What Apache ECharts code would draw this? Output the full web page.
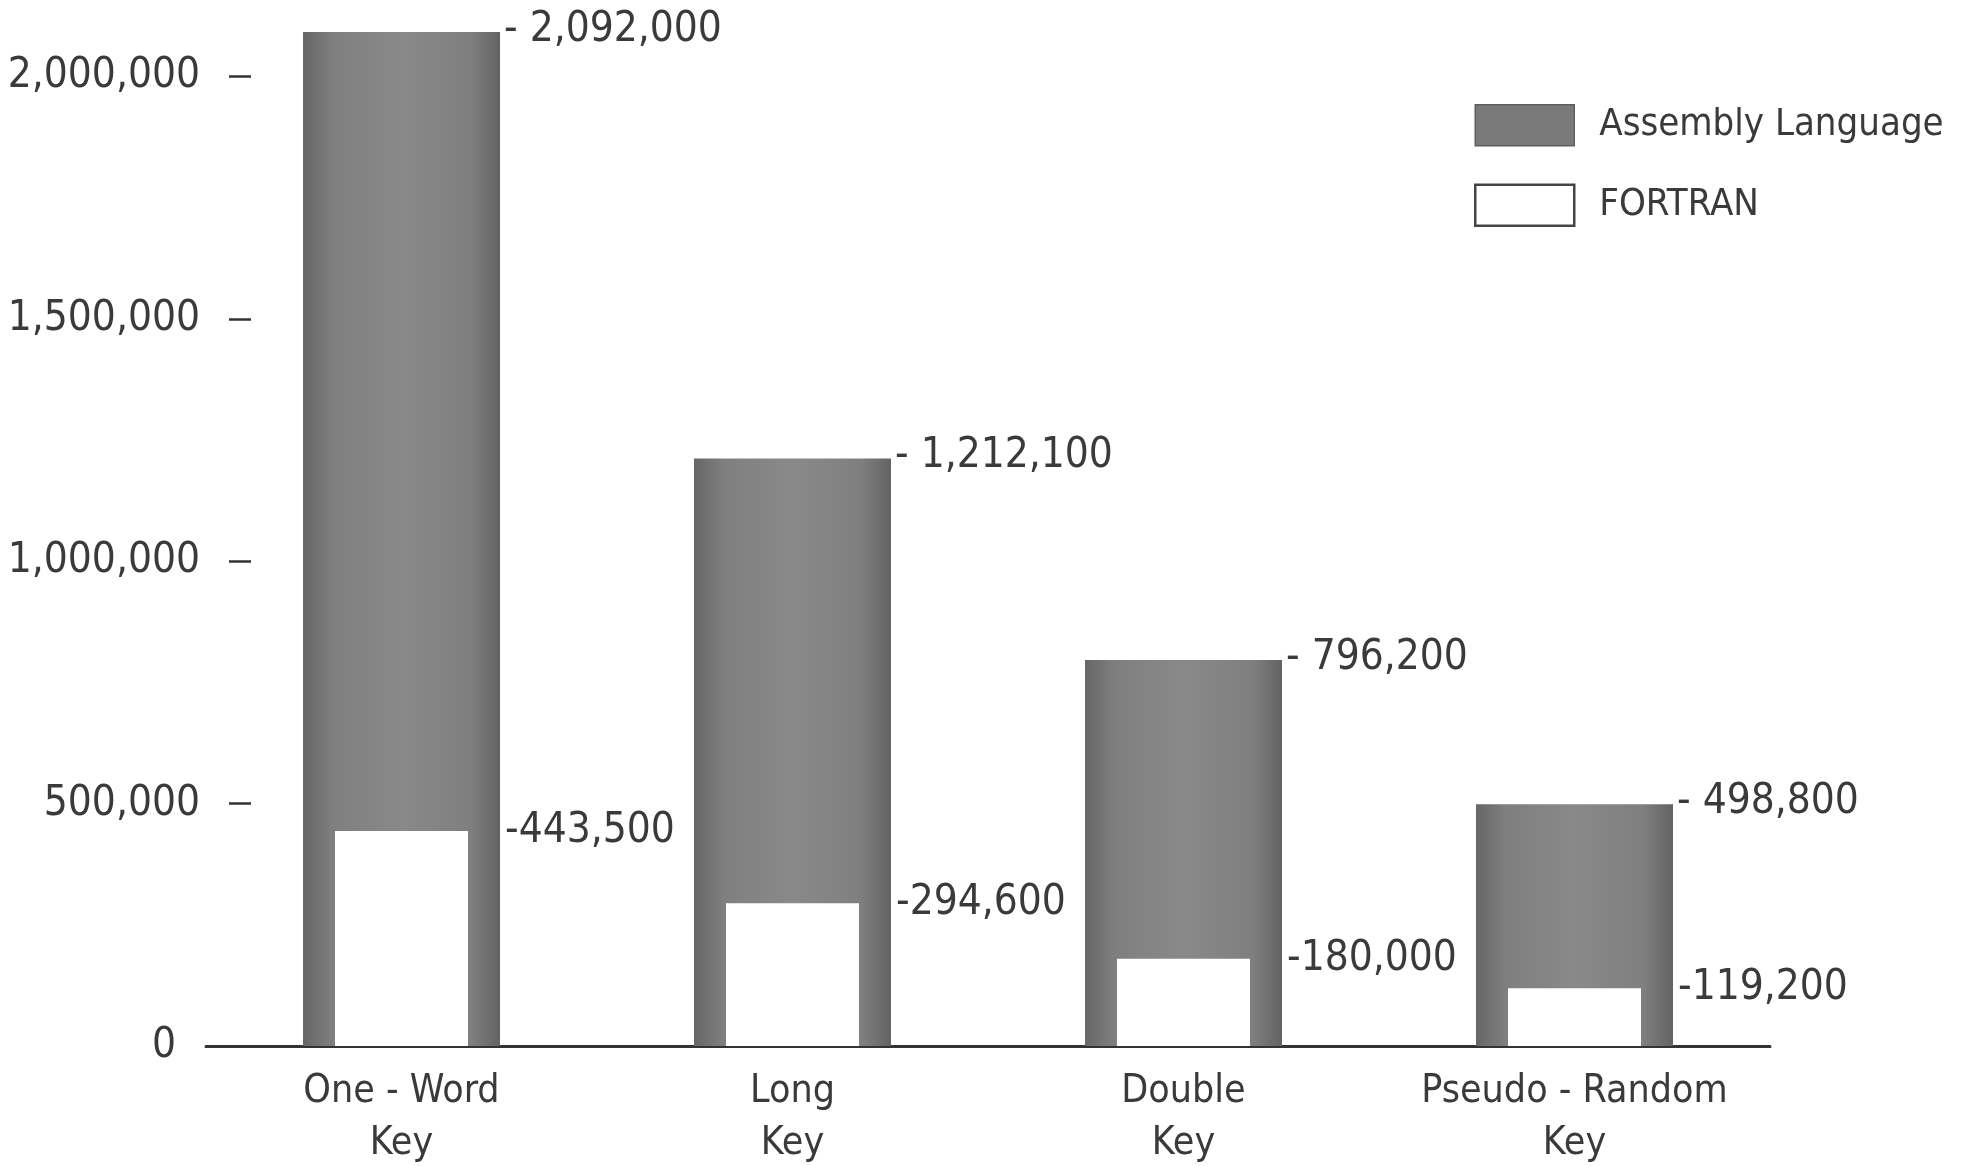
<!DOCTYPE html>
<html>
<head>
<meta charset="utf-8">
<title>Assembly Language vs FORTRAN</title>
<script src="https://cdn.jsdelivr.net/npm/echarts@6/dist/echarts.min.js"></script>
<style>
  html, body { margin: 0; padding: 0; background: #fff; }
  #main { width: 1965px; height: 1166px; }
</style>
</head>
<body>
<div id="main"></div>
<script>
var categories = ['One - Word\nKey', 'Long\nKey', 'Double\nKey', 'Pseudo - Random\nKey'];
var assemblyValues = [2092000, 1212100, 796200, 498800];
var fortranValues = [443500, 294600, 180000, 119200];
var tickLabels = [0, 500000, 1000000, 1500000, 2000000];

;(function (root) {
var FONT = "'Liberation Sans Narrow', 'DejaVu Sans Condensed', 'Liberation Sans', sans-serif";
var INK = '#3a3a3a';

function fmt(v) {
  return Number(v).toLocaleString('en-US');
}

root.KeyChart = function () {};
root.KeyChart.prototype = {
  init: function () {
    this.createChart(this.buildOption());
  },
  buildOption: function () {
    // grey speckled bar, darker at the edges
    var grey = new echarts.graphic.LinearGradient(0, 0, 1, 0, [
      { offset: 0, color: '#666' },
      { offset: 0.15, color: '#7f7f7f' },
      { offset: 0.5, color: '#898989' },
      { offset: 0.85, color: '#7f7f7f' },
      { offset: 1, color: '#636363' }
    ]);
    return {
      backgroundColor: '#fff',
      animation: false,
      textStyle: { fontFamily: FONT },
      legend: {
        orient: 'vertical',
        left: 1469,
        top: 99,
        itemWidth: 99,
        itemHeight: 41,
        itemGap: 37,
        icon: 'rect',
        textStyle: { fontFamily: FONT, fontSize: 38, color: INK, padding: [0, 0, 0, 20] },
        data: [
          { name: 'Assembly Language', itemStyle: { color: '#7a7a7a', borderColor: '#5e5e5e', borderWidth: 1.5 } },
          { name: 'FORTRAN', itemStyle: { color: '#fff', borderColor: '#444', borderWidth: 2.5 } }
        ]
      },
      grid: { left: 206, right: 195, top: 28, bottom: 120, outerBoundsMode: 'none' },
      xAxis: [{
        type: 'category',
        data: categories,
        axisLine: { lineStyle: { color: '#333', width: 3 } },
        axisTick: { show: false },
        axisLabel: { interval: 0, fontFamily: FONT, fontSize: 39, lineHeight: 52, color: INK, margin: 20 }
      }, {
        type: 'category',
        data: categories,
        show: false
      }],
      yAxis: {
        type: 'value',
        min: 0,
        max: 2100000,
        interval: 500000,
        offset: -45,
        axisLine: { show: false },
        splitLine: { show: false },
        axisTick: {
          show: true,
          length: 22,
          lineStyle: { color: '#333', width: 2.5 },
          customValues: tickLabels.slice(1)
        },
        axisLabel: {
          fontFamily: FONT,
          fontSize: 42,
          color: INK,
          margin: 51,
          customValues: tickLabels,
          formatter: function (v) { return v === 0 ? '{z|0}' : fmt(v); },
          rich: { z: { fontFamily: FONT, fontSize: 42, color: INK, padding: [0, 24, 0, 0] } }
        }
      },
      series: [{
        name: 'Assembly Language',
        type: 'bar',
        xAxisIndex: 0,
        barWidth: 197,
        data: assemblyValues,
        itemStyle: { color: grey },
        label: {
          show: true,
          position: ['100%', 0],
          offset: [4, -2],
          align: 'left',
          verticalAlign: 'middle',
          fontFamily: FONT,
          fontSize: 42,
          color: INK,
          formatter: function (p) { return '- ' + fmt(p.value); }
        }
      }, {
        name: 'FORTRAN',
        type: 'bar',
        xAxisIndex: 1,
        barWidth: 133,
        data: fortranValues,
        itemStyle: { color: '#fff' },
        label: {
          show: true,
          position: ['100%', 0],
          offset: [37, 0],
          align: 'left',
          verticalAlign: 'middle',
          fontFamily: FONT,
          fontSize: 42,
          color: INK,
          formatter: function (p) { return '-' + fmt(p.value); }
        }
      }]
    };
  },
  createChart: function (option) {
    var chart = echarts.init(document.getElementById('main'));
    chart.setOption(option);
  }
};
new root.KeyChart().init();
})(typeof window != 'undefined' ? window : this);
</script>
</body>
</html>
